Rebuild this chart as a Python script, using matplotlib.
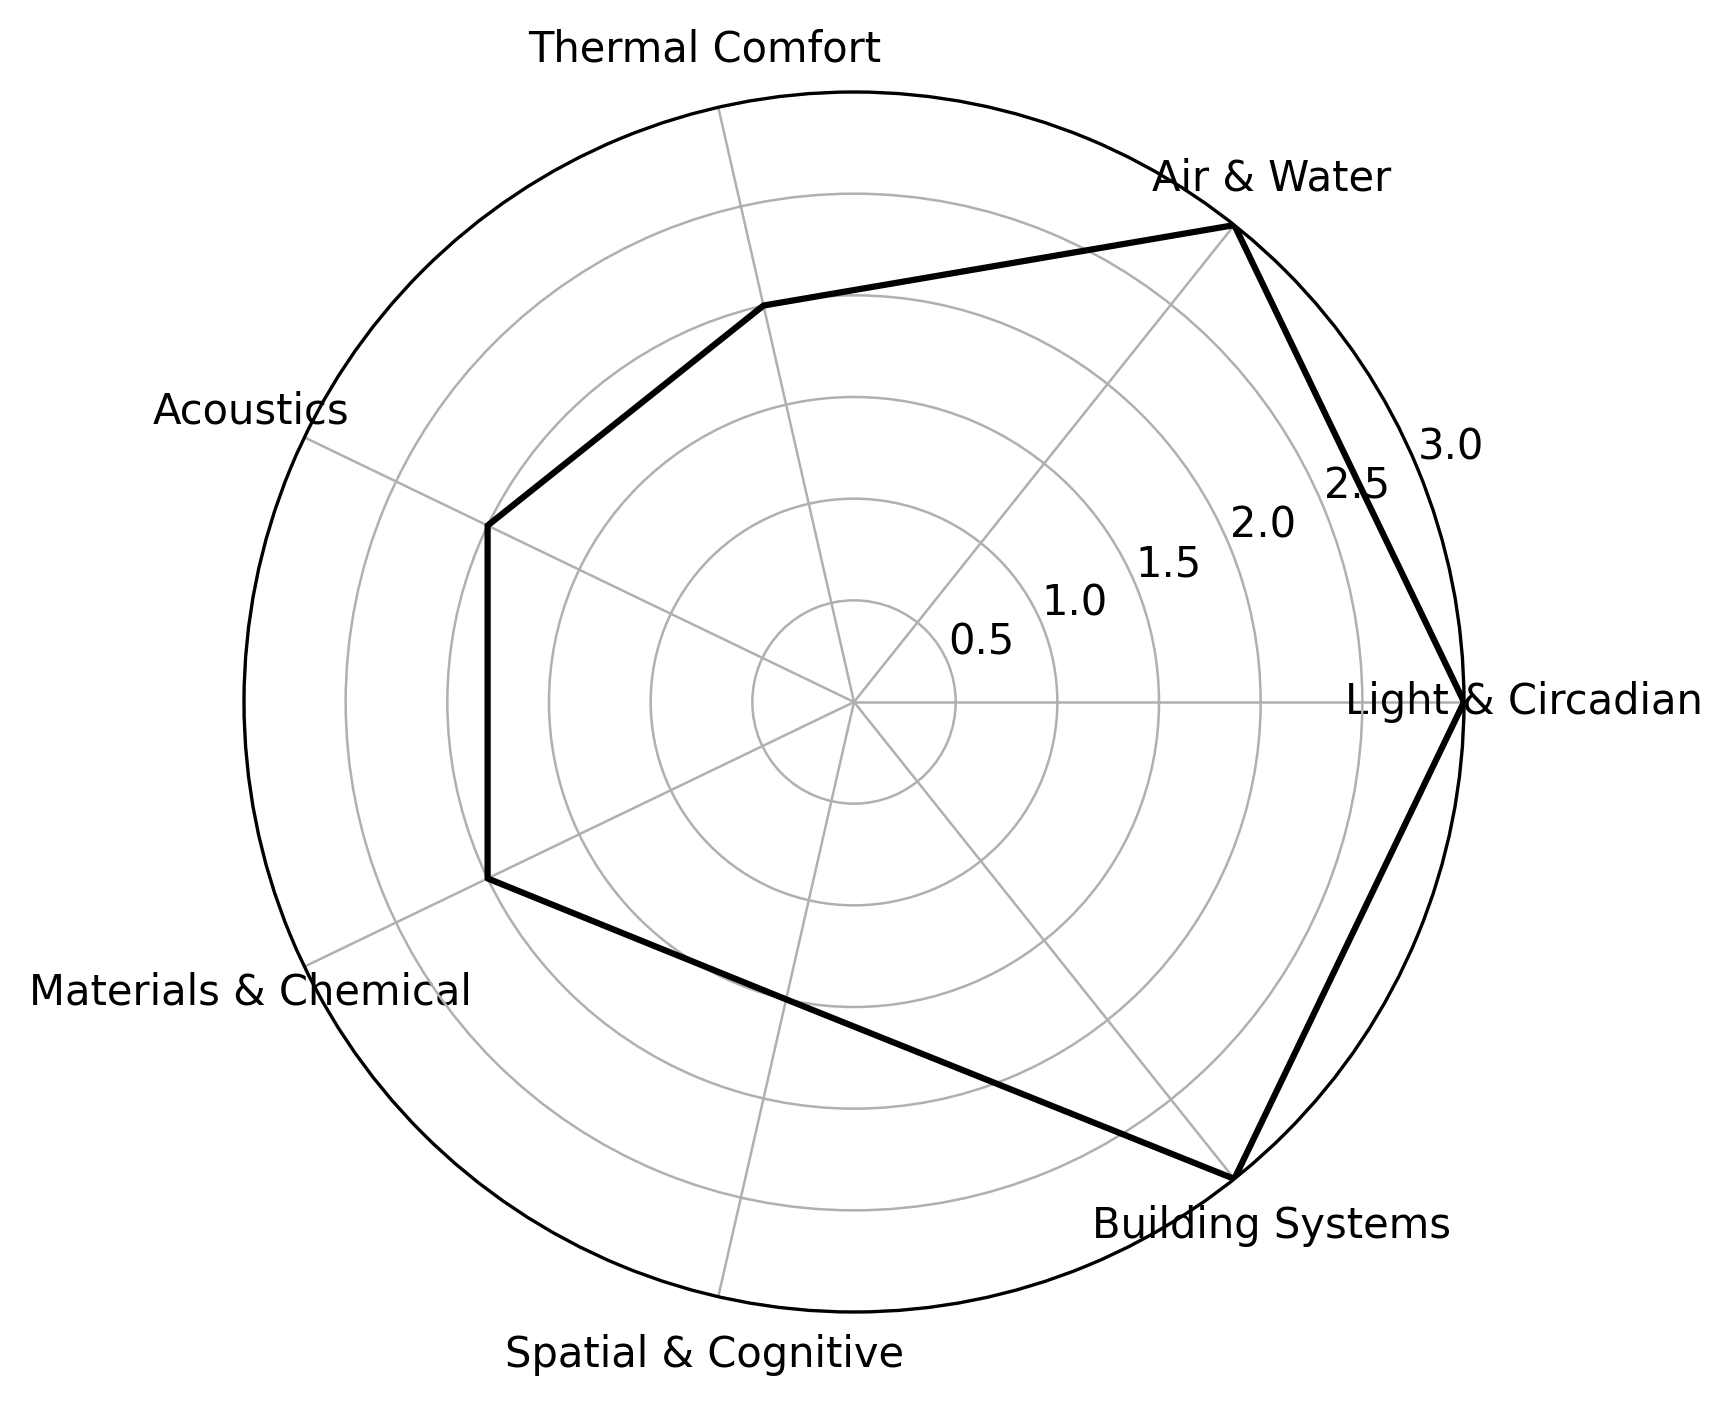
import matplotlib
matplotlib.use("Agg")
import matplotlib.pyplot as plt
import numpy as np

# categories and scores
categories = ['Light & Circadian', 'Air & Water', 'Thermal Comfort', 'Acoustics',
              'Materials & Chemical', 'Spatial & Cognitive', 'Building Systems']
scores = [3.0, 3.0, 2.0, 2.0, 2.0, 1.5, 3.0]
r_ticks = [0.5, 1.0, 1.5, 2.0, 2.5, 3.0]

n = len(categories)
angles = np.linspace(0, 2 * np.pi, n, endpoint=False).tolist()
vals = scores + scores[:1]
angs = angles + angles[:1]

fig = plt.figure(figsize=(1732 / 300, 1407 / 300), dpi=300)
ax = fig.add_axes([243 / 1732, 95 / 1407, 1222 / 1732, 1220 / 1407], projection='polar')

ax.plot(angs, vals, color='black', linewidth=1.5)

ax.set_xticks(angles)
ax.set_xticklabels(categories, fontsize=10)
ax.tick_params(axis='x', pad=3.8)
ax.set_ylim(0, 3)
ax.set_yticks(r_ticks)
ax.set_yticklabels([f"{t:.1f}" for t in r_ticks], fontsize=10)
ax.grid(color='#b0b0b0', linewidth=0.6)
ax.spines['polar'].set_linewidth(0.8)

fig.savefig('out.png', dpi=300)
